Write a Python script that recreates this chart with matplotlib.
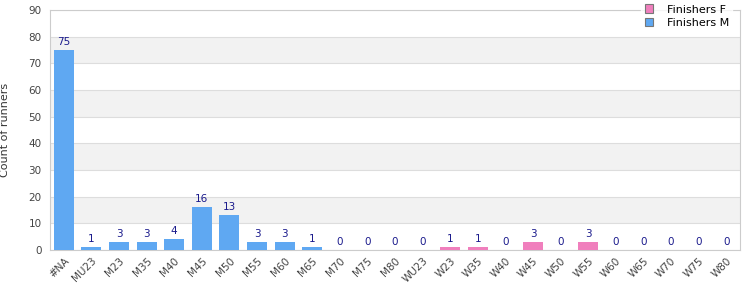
import matplotlib
matplotlib.use('Agg')
import matplotlib.pyplot as plt
import numpy as np

categories = ['#NA', 'MU23', 'M23', 'M35', 'M40', 'M45', 'M50', 'M55', 'M60', 'M65',
              'M70', 'M75', 'M80', 'WU23', 'W23', 'W35', 'W40', 'W45', 'W50', 'W55',
              'W60', 'W65', 'W70', 'W75', 'W80']
finishers_m = [75, 1, 3, 3, 4, 16, 13, 3, 3, 1, 0, 0, 0, 0, 0, 0, 0, 0, 0, 0, 0, 0, 0, 0, 0]
finishers_f = [0, 0, 0, 0, 0, 0, 0, 0, 0, 0, 0, 0, 0, 0, 1, 1, 0, 3, 0, 3, 0, 0, 0, 0, 0]

color_m = '#5fa8f2'
color_f = '#f07fbd'

fig = plt.figure(figsize=(7.5, 3), dpi=100)
ax = fig.add_axes([50 / 750, 50 / 300, 690 / 750, 240 / 300])

x = np.arange(len(categories))
m = np.array(finishers_m)
f = np.array(finishers_f)
ax.bar(x, m, width=0.72, color=color_m, label='Finishers M', zorder=3)
ax.bar(x, f, width=0.72, bottom=m, color=color_f, label='Finishers F', zorder=3)

totals = m + f
for xi, t in zip(x, totals):
    ax.text(xi, t + 1.2, str(t), ha='center', va='bottom', fontsize=7.5,
            color='#1a1a8c', zorder=4)

ax.set_xlim(-0.5, len(categories) - 0.5)
ax.set_ylim(0, 90)
ax.set_yticks(range(0, 91, 10))
for lo in range(10, 90, 20):
    ax.axhspan(lo, lo + 10, color='#f2f2f2', zorder=0, lw=0)
ax.yaxis.grid(True, color='#dddddd', lw=0.8, zorder=1)

ax.set_xticks(x)
ax.set_xticklabels(categories, rotation=45, ha='right', rotation_mode='anchor')
ax.tick_params(axis='both', length=0, labelsize=7.5, labelcolor='#444444', pad=4)
ax.tick_params(axis='y', pad=6)
ax.set_ylabel('Count of runners', fontsize=8, color='#333333', labelpad=13)
for s in ax.spines.values():
    s.set_color('#cccccc')
    s.set_linewidth(0.8)

handles, labels = ax.get_legend_handles_labels()
leg = ax.legend(handles[::-1], labels[::-1], loc='upper right',
                bbox_to_anchor=(0.997, 1.06), fontsize=8, frameon=True,
                handlelength=0.8, handleheight=0.8, borderpad=0.3,
                labelspacing=0.3, handletextpad=1.2)
leg.get_frame().set_edgecolor('white')
leg.get_frame().set_boxstyle('square', pad=0)
for h in leg.legend_handles:
    h.set_edgecolor('#777777')
    h.set_linewidth(0.8)

fig.savefig('out.png', dpi=100)
